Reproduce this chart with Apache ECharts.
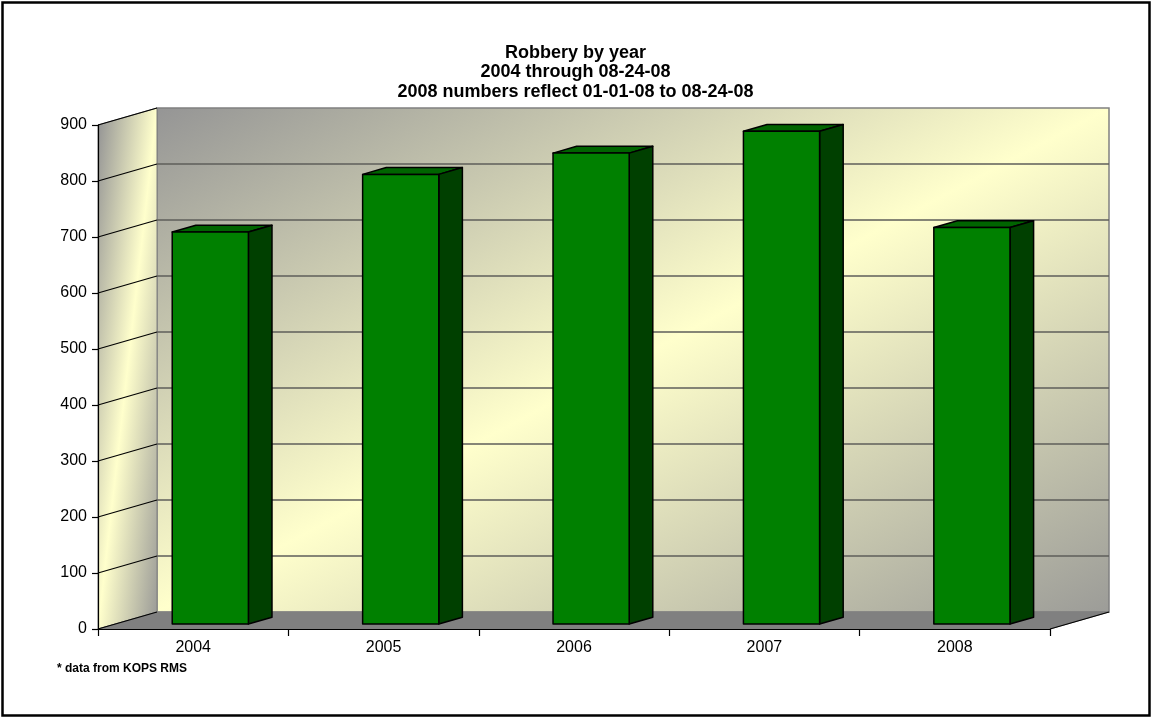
<!DOCTYPE html>
<html>
<head>
<meta charset="utf-8">
<script src="https://cdn.jsdelivr.net/npm/echarts@6/dist/echarts.min.js"></script>
<style>
  html, body { margin: 0; padding: 0; background: #ffffff; }
  #chart { width: 1151px; height: 717px; }
</style>
</head>
<body>
<div id="chart"></div>
<script>
// Robbery counts per year (2008 is a partial year)
const years = ['2004', '2005', '2006', '2007', '2008'];
const robberies = [700, 803, 841, 880, 708];
const yMin = 0, yMax = 900, yStep = 100;
const titleLines = ['Robbery by year', '2004 through 08-24-08', '2008 numbers reflect 01-01-08 to 08-24-08'];
const footnote = '* data from KOPS RMS';

// Oblique 3D look: full depth of the chart box as a pixel offset
const DEPTH_DX = 59, DEPTH_DY = -17;
const BAR_FRONT = 0.29;   // depth fraction where bar fronts sit
const BAR_DEPTH = 0.40;   // depth fraction taken by each bar
const BAR_HALF = 0.2;     // half bar width as a fraction of the category band

const FONT = '"Liberation Sans", Arial, sans-serif';

// Diagonal gray -> cream -> gray fill laid out in a wall's own (u, v) space
function wallGradient(o, e1, e2) {
  const det = e1[0] * e2[1] - e2[0] * e1[1];
  const gu = [e2[1] / det, -e2[0] / det];
  const gv = [-e1[1] / det, e1[0] / det];
  const g = [(gu[0] + gv[0]) / 2, (gu[1] + gv[1]) / 2];
  const n2 = g[0] * g[0] + g[1] * g[1];
  return new echarts.graphic.LinearGradient(
    o[0], o[1], o[0] + g[0] / n2, o[1] + g[1] / n2,
    [
      { offset: 0, color: '#959595' },
      { offset: 0.5, color: '#ffffcc' },
      { offset: 1, color: '#9c9c98' }
    ],
    true
  );
}

function renderWalls(params, api) {
  const cs = params.coordSys;
  const x0 = cs.x, y0 = cs.y, w = cs.width, h = cs.height;
  const dx = DEPTH_DX, dy = DEPTH_DY;
  const kids = [];
  // back wall
  kids.push({
    type: 'rect',
    shape: { x: x0 + dx, y: y0 + dy, width: w, height: h },
    style: { fill: wallGradient([x0 + dx, y0 + dy], [w, 0], [0, h]), stroke: '#808080', lineWidth: 1.5 }
  });
  // side wall
  kids.push({
    type: 'polygon',
    shape: { points: [[x0, y0], [x0 + dx, y0 + dy], [x0 + dx, y0 + h + dy], [x0, y0 + h]] },
    style: { fill: wallGradient([x0, y0], [dx, dy], [0, h]), stroke: '#808080', lineWidth: 1 }
  });
  // floor
  kids.push({
    type: 'polygon',
    shape: { points: [[x0, y0 + h], [x0 + dx, y0 + h + dy], [x0 + w + dx, y0 + h + dy], [x0 + w, y0 + h]] },
    style: { fill: '#808080', stroke: '#808080', lineWidth: 1 }
  });
  // gridlines on side and back walls
  for (let v = yMin; v <= yMax; v += yStep) {
    const y = api.coord([0, v])[1];
    kids.push({
      type: 'line',
      shape: { x1: x0, y1: y, x2: x0 + dx, y2: y + dy },
      style: { stroke: '#000000', lineWidth: 1.2 }
    });
    if (v > yMin && v < yMax) {
      kids.push({
        type: 'line',
        shape: { x1: x0 + dx, y1: y + dy, x2: x0 + w + dx, y2: y + dy },
        style: { stroke: '#5e5e5a', lineWidth: 1.5 }
      });
    }
  }
  // right edge of the floor
  kids.push({
    type: 'line',
    shape: { x1: x0 + w, y1: y0 + h, x2: x0 + w + dx, y2: y0 + h + dy },
    style: { stroke: '#000000', lineWidth: 1.2 }
  });
  return { type: 'group', children: kids };
}

function renderBar(params, api) {
  const idx = api.value(0);
  const val = api.value(1);
  const base = api.coord([idx, 0]);
  const top = api.coord([idx, val]);
  const band = api.size([1, 0])[0];
  const half = band * BAR_HALF;
  const ox = DEPTH_DX * BAR_FRONT, oy = DEPTH_DY * BAR_FRONT;
  const ddx = DEPTH_DX * BAR_DEPTH, ddy = DEPTH_DY * BAR_DEPTH;
  const L = base[0] - half + ox, R = base[0] + half + ox;
  const B = base[1] + oy, T = top[1] + oy;
  const edge = { stroke: '#000000', lineWidth: 1.5, lineJoin: 'round' };
  return {
    type: 'group',
    children: [
      { type: 'polygon', shape: { points: [[L, T], [L + ddx, T + ddy], [R + ddx, T + ddy], [R, T]] },
        style: Object.assign({ fill: '#006400' }, edge) },
      { type: 'polygon', shape: { points: [[R, T], [R + ddx, T + ddy], [R + ddx, B + ddy], [R, B]] },
        style: Object.assign({ fill: '#004000' }, edge) },
      { type: 'rect', shape: { x: L, y: T, width: R - L, height: B - T },
        style: Object.assign({ fill: '#008000' }, edge) }
    ]
  };
}

const chart = echarts.init(document.getElementById('chart'), null, { renderer: 'canvas' });

chart.setOption({
  animation: false,
  backgroundColor: '#ffffff',
  title: {
    text: titleLines.join('\n'),
    left: 'center',
    top: 38,
    textStyle: { fontFamily: FONT, fontSize: 18, fontWeight: 'bold', color: '#000000', lineHeight: 19.5 }
  },
  grid: { left: 98, right: 101, top: 125, bottom: 88, containLabel: false },
  xAxis: {
    type: 'category',
    data: years,
    boundaryGap: true,
    z: 5,
    axisLine: { lineStyle: { color: '#000000', width: 1.2 } },
    axisTick: { show: true, length: 7, interval: 0, lineStyle: { color: '#000000', width: 1.2 } },
    axisLabel: { color: '#000000', fontFamily: FONT, fontSize: 16, margin: 11 },
    splitLine: { show: false }
  },
  yAxis: {
    type: 'value',
    min: yMin,
    max: yMax,
    interval: yStep,
    z: 5,
    axisLine: { show: true, lineStyle: { color: '#000000', width: 1.2 } },
    axisTick: { show: true, length: 6, lineStyle: { color: '#000000', width: 1.2 } },
    axisLabel: { color: '#000000', fontFamily: FONT, fontSize: 16, margin: 11 },
    splitLine: { show: false }
  },
  series: [
    {
      type: 'custom',
      name: 'walls',
      z: 1,
      silent: true,
      renderItem: renderWalls,
      data: [[0, 0]]
    },
    {
      type: 'custom',
      name: 'Robbery',
      z: 3,
      renderItem: renderBar,
      encode: { x: 0, y: 1 },
      data: years.map((y, i) => [i, robberies[i]])
    }
  ],
  graphic: [
    {
      type: 'rect',
      left: 0, top: 0, z: 100, silent: true,
      shape: { x: 2, y: 2, width: 1147, height: 713 },
      style: { fill: 'none', stroke: '#000000', lineWidth: 2.5 }
    },
    {
      type: 'text',
      left: 57, top: 663, z: 100,
      style: { text: footnote, fontFamily: FONT, fontSize: 12, fontWeight: 'bold', fill: '#000000' }
    }
  ]
});
</script>
</body>
</html>
